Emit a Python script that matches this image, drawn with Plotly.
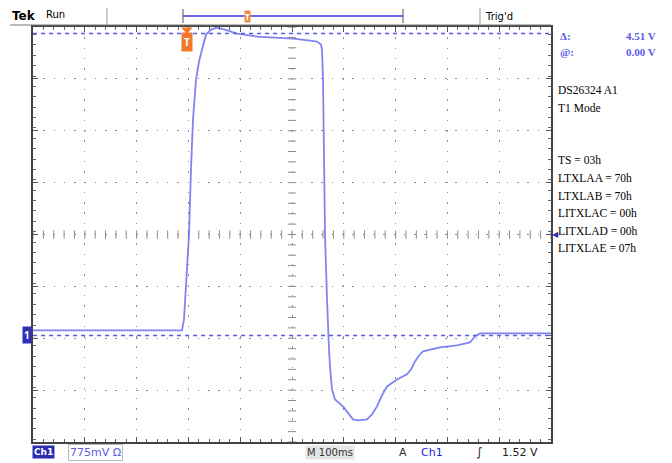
import plotly.graph_objects as go
import numpy as np

# ---- data (time in ms, voltage in V) ----
time_ms = [0, 129.3, 287.6, 291.5, 295.4, 299.2, 301.2, 305.0, 308.9, 314.7, 320.5,
           326.3, 334.0, 343.6, 355.2, 370.7, 393.8, 432.5, 467.2, 501.9, 534.8,
           548.3, 556.0, 557.9, 559.9, 561.8, 563.7, 567.6, 569.5, 571.4, 573.4,
           577.2, 583.0, 598.4, 617.7, 627.4, 644.8, 654.4, 664.1, 673.7, 683.4,
           702.7, 722.0, 729.7, 737.5, 745.2, 752.9, 785.7, 818.5, 843.6, 853.3,
           863.0, 940.1, 1000]
volts = [0.075, 0.075, 0.075, 0.239, 0.687, 1.284, 1.508, 2.479, 3.226, 3.823, 4.092,
         4.271, 4.495, 4.570, 4.599, 4.570, 4.510, 4.465, 4.450, 4.435, 4.405,
         4.390, 4.346, 4.271, 3.823, 2.778, 1.508, 0.538, 0.090, -0.209, -0.463,
         -0.806, -0.956, -1.060, -1.254, -1.269, -1.254, -1.180, -1.060, -0.896, -0.762,
         -0.657, -0.582, -0.508, -0.388, -0.299, -0.239, -0.179, -0.149, -0.105, -0.015,
         0.030, 0.030, 0.030]

cursor_levels = [4.51, 0.00]
volts_per_div = 0.775
ms_per_div = 100
center_v = 1.508
trigger_level = 1.52
trigger_time = 297

side_lines = ["DS26324 A1", "T1 Mode", "", "", "TS = 03h", "LTXLAA = 70h",
              "LTXLAB = 70h", "LITXLAC = 00h", "LITXLAD = 00h", "LITXLAE = 07h"]

# ---- geometry helpers (window pixels -> paper); page body has an 8px margin ----
OFF = 8
L, R, T, B = 33, 551, 27, 442
W, H = 672 - OFF, 463 - OFF
def xp(px): return (px - L) / (R - L)
def yp(py): return (B - py) / (B - T)

y_lo = center_v - 4 * volts_per_div
y_hi = center_v + 4 * volts_per_div

BLUE = "#5a5ae6"
TRACE = "#6b6ff0"
GRID = "#8c8c8c"
ORANGE = "#f07a2a"

fig = go.Figure()

# center crosshair ticks
cy = center_v + np.arange(-20, 21) * volts_per_div / 5
cx = np.arange(0, 51) * ms_per_div / 5
fig.add_trace(go.Scatter(x=[500] * len(cy), y=cy, mode="markers",
                         marker=dict(symbol="line-ew", size=6, line=dict(color=GRID, width=1)),
                         hoverinfo="skip", showlegend=False))
fig.add_trace(go.Scatter(x=cx, y=[center_v] * len(cx), mode="markers",
                         marker=dict(symbol="line-ns", size=6, line=dict(color=GRID, width=1)),
                         hoverinfo="skip", showlegend=False))

# cursors
for lv in cursor_levels:
    fig.add_shape(type="line", xref="paper", x0=0, x1=1, y0=lv, y1=lv,
                  line=dict(color=BLUE, width=1.5, dash="4px,4px"))

# waveform
fig.add_trace(go.Scatter(x=time_ms, y=volts, mode="lines",
                         line=dict(color=TRACE, width=1.8), opacity=0.85,
                         showlegend=False, hoverinfo="skip"))

axis_common = dict(showticklabels=False, showline=True, linecolor="#444", linewidth=2,
                   mirror="allticks", ticks="inside", ticklen=5, tickcolor="#555",
                   showgrid=True, gridcolor=GRID, gridwidth=1, griddash="1.5px,8.8px",
                   zeroline=False, fixedrange=True)
fig.update_xaxes(range=[0, 1000], dtick=ms_per_div, tick0=0,
                 minor=dict(dtick=ms_per_div / 5, ticks="inside", ticklen=3, tickcolor="#666", showgrid=False),
                 **axis_common)
fig.update_yaxes(range=[y_lo, y_hi], dtick=volts_per_div, tick0=center_v,
                 minor=dict(dtick=volts_per_div / 5, ticks="inside", ticklen=3, tickcolor="#666", showgrid=False),
                 **axis_common)

ann = []
def text(px, py, s, color="black", size=11, family="DejaVu Sans", xanchor="left", bg=None, bold=False, border=None):
    d = dict(x=xp(px), y=yp(py), xref="paper", yref="paper", text=("<b>%s</b>" % s if bold else s),
             showarrow=False, xanchor=xanchor, yanchor="middle",
             font=dict(color=color, size=size, family=family))
    if bg:
        d["bgcolor"] = bg
    if border:
        d["bordercolor"] = border
        d["borderwidth"] = 1
        d["borderpad"] = 1
    ann.append(d)

# top status line
text(10, 16, "Tek", size=12, bold=True, family="DejaVu Sans")
text(44, 15, "Run", size=10)
text(483, 16, "Trig'd", size=10)
# right-side readouts
text(558, 36, "Δ:", color=BLUE, size=11, family="Liberation Serif", bold=True)
text(658, 36, "4.51 V", color=BLUE, size=11, family="Liberation Serif", bold=True, xanchor="right")
text(558, 52, "@:", color=BLUE, size=11, family="Liberation Serif", bold=True)
text(658, 52, "0.00 V", color=BLUE, size=11, family="Liberation Serif", bold=True, xanchor="right")
for i, s in enumerate(side_lines):
    if s:
        text(556, 90 + i * 17.6, s, size=11.5, family="Liberation Serif")
# bottom status line
ann.append(dict(x=xp(32), y=yp(452), xref="paper", yref="paper", text="<b>Ch1</b>", showarrow=False,
                xanchor="left", yanchor="middle", font=dict(color="white", size=9, family="DejaVu Sans"),
                bgcolor="#2b2bb0", borderpad=1))
text(68, 452, "775mV Ω", color=BLUE, size=11, family="DejaVu Sans", border="#bbb")
text(305, 452, "M 100ms", color="#333", size=10, family="DejaVu Sans", bg="#e4e4e4")
text(397, 452, "A", color="#333", size=11)
text(419, 452, "Ch1", color="#2323d0", size=11)
text(474, 452, "<i>∫</i>", color="#222", size=12)
text(540, 452, "1.52 V", color="#222", size=11, xanchor="right")

# ground marker
ann.append(dict(x=0, y=0, xref="paper", yref="y", text="<b>1</b>", showarrow=False,
                xanchor="right", yanchor="middle", font=dict(color="white", size=10),
                bgcolor="#2f2fb8", borderpad=1, xshift=-1))
# trigger level arrow
ann.append(dict(x=1, y=trigger_level, xref="paper", yref="y", text="◀", showarrow=False,
                xanchor="left", yanchor="middle", font=dict(color="#3030c0", size=8), xshift=-1))
# trigger position marker (label under a triangle shape)
ann.append(dict(x=trigger_time, y=yp(42), xref="x", yref="paper", text="<b>T</b>", showarrow=False,
                xanchor="center", yanchor="middle", font=dict(color="white", size=10),
                bgcolor=ORANGE, borderpad=2))
# waveform record bar marker
ann.append(dict(x=xp(247), y=yp(16), xref="paper", yref="paper", text="<b>T</b>", showarrow=False,
                xanchor="center", yanchor="middle", font=dict(color="white", size=8),
                bgcolor="#f08a40", borderpad=0))

shapes = []
# trigger triangle
tx = 33 + trigger_time / 1000 * (R - L)
shapes.append(dict(type="path", xref="paper", yref="paper",
                   path="M %f,%f L %f,%f L %f,%f Z" % (xp(tx - 5), yp(28), xp(tx + 5), yp(28), xp(tx), yp(33)),
                   fillcolor=ORANGE, line=dict(color=ORANGE, width=1)))
# record bar
shapes.append(dict(type="line", xref="paper", yref="paper", x0=xp(183), x1=xp(403), y0=yp(16), y1=yp(16),
                   line=dict(color="#6a6ae8", width=2)))
for x in (183, 403):
    shapes.append(dict(type="line", xref="paper", yref="paper", x0=xp(x), x1=xp(x), y0=yp(9), y1=yp(23),
                       line=dict(color="#555", width=1)))
for x in (107, 480):
    shapes.append(dict(type="line", xref="paper", yref="paper", x0=xp(x), x1=xp(x), y0=yp(4), y1=yp(25),
                       line=dict(color="#999", width=1)))
shapes.append(dict(type="line", xref="paper", yref="paper", x0=xp(10), x1=xp(551), y0=yp(25), y1=yp(25),
                   line=dict(color="#777", width=1)))
for s in shapes:
    fig.add_shape(**s)

fig.update_layout(width=W, height=H,
                  margin=dict(l=L - OFF, r=(W + OFF) - R, t=T - OFF, b=(H + OFF) - B),
                  paper_bgcolor="white", plot_bgcolor="white", annotations=ann,
                  showlegend=False)

fig.write_html("out.html")
